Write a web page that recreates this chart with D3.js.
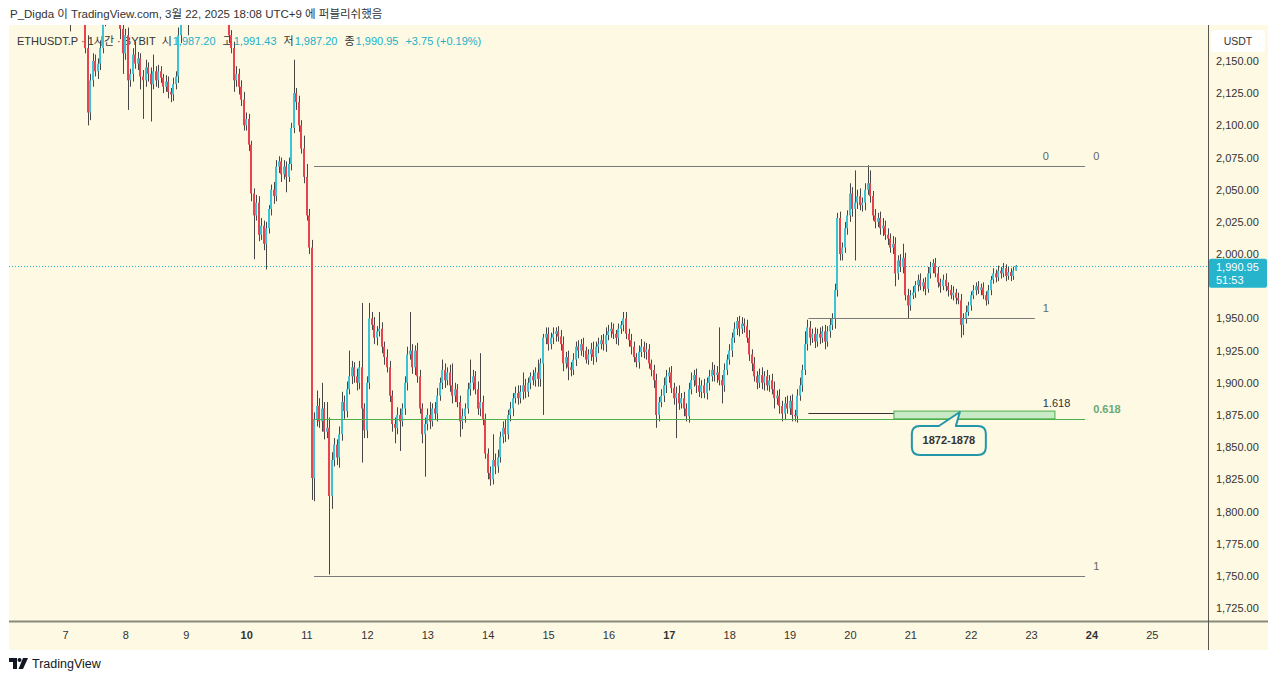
<!DOCTYPE html>
<html>
<head>
<meta charset="utf-8">
<script src="https://cdn.jsdelivr.net/npm/d3@7"></script>
<style>
  html, body { margin: 0; padding: 0; background: #fff; }
  svg { display: block; font-family: "Liberation Sans", "Noto Sans CJK KR", sans-serif; }
</style>
</head>
<body>
<svg id="chart" width="1280" height="681"></svg>
<script>
// ETHUSDT.P 1시간봉 (BYBIT), 3/6 20:00 ~ 3/22 18:00 (UTC+9), 가격은 그림에서 읽은 추정값
const startHour = -4;      // 첫 캔들 = 3월 7일 00시 기준 -4시간
const firstOpen = 2200;

const closes = [
  2205, 2198, 2210, 2200,
  2195, 2200, 2192, 2200, 2210, 2205, 2195, 2185, 2160, 2110, 2135, 2150, 2142, 2148, 2160, 2182, 2190, 2195, 2200, 2205, 2200, 2195, 2175, 2156,
  2170, 2135, 2140, 2155, 2148, 2152, 2138, 2135, 2145, 2140, 2132, 2142, 2135, 2142, 2137, 2130, 2134, 2126, 2124, 2132, 2138, 2170, 2185, 2195,
  2200, 2195, 2205, 2210, 2200, 2205, 2212, 2208, 2200, 2195, 2200, 2205, 2210, 2205, 2200, 2195, 2190, 2170, 2160, 2135, 2140, 2130, 2120, 2100,
  2105, 2085, 2047, 2030, 2040, 2015, 2022, 2008, 2020, 2035, 2050, 2045, 2068, 2072, 2062, 2068, 2060, 2070, 2098, 2125, 2118, 2100, 2082, 2060,
  2030, 2005, 1826, 1872, 1882, 1870, 1880, 1862, 1865, 1812, 1840, 1852, 1842, 1860, 1885, 1878, 1895, 1905, 1912, 1905, 1900, 1912, 1880, 1863,
  1900, 1950, 1945, 1935, 1940, 1942, 1928, 1920, 1912, 1890, 1868, 1865, 1875, 1870, 1880, 1900, 1922, 1925, 1912, 1925, 1905, 1880, 1860, 1868,
  1875, 1870, 1880, 1876, 1890, 1900, 1910, 1902, 1908, 1898, 1890, 1895, 1885, 1870, 1874, 1880, 1895, 1900, 1905, 1895, 1880, 1885, 1872, 1845,
  1830, 1825, 1840, 1835, 1842, 1858, 1865, 1860, 1875, 1880, 1888, 1892, 1888, 1893, 1898, 1893, 1900, 1905, 1902, 1908, 1903, 1915, 1935, 1938,
  1930, 1935, 1938, 1940, 1936, 1930, 1915, 1920, 1912, 1910, 1918, 1928, 1925, 1930, 1925, 1918, 1922, 1926, 1920, 1928, 1930, 1933, 1930, 1937,
  1940, 1942, 1938, 1935, 1942, 1945, 1950, 1938, 1933, 1928, 1920, 1916, 1924, 1928, 1924, 1926, 1915, 1910, 1902, 1875, 1885, 1890, 1898, 1905,
  1908, 1896, 1888, 1892, 1884, 1888, 1880, 1874, 1895, 1902, 1906, 1898, 1893, 1898, 1892, 1900, 1905, 1910, 1906, 1908, 1902, 1898, 1910, 1918,
  1925, 1935, 1942, 1948, 1942, 1946, 1944, 1935, 1922, 1915, 1905, 1900, 1906, 1900, 1905, 1898, 1902, 1895, 1888, 1890, 1882, 1876, 1884, 1880,
  1886, 1875, 1874, 1890, 1898, 1910, 1930, 1943, 1935, 1938, 1932, 1938, 1935, 1940, 1932, 1940, 1945, 1950, 1972, 2028, 2000, 2005, 2020, 2030,
  2047, 2035, 2040, 2045, 2038, 2040, 2050, 2055, 2045, 2030, 2025, 2028, 2020, 2022, 2015, 2012, 2005, 2008, 1985, 1995, 1990, 1997, 1968, 1960,
  1968, 1970, 1976, 1980, 1975, 1978, 1973, 1985, 1990, 1993, 1985, 1978, 1975, 1980, 1975, 1972, 1968, 1970, 1966, 1964, 1945, 1950, 1955, 1960,
  1968, 1972, 1975, 1972, 1974, 1968, 1964, 1972, 1980, 1985, 1982, 1987, 1985, 1989, 1983, 1986, 1983, 1987.2, 1990.95
];

// 몸통 위/아래로 나온 꼬리 길이
const wickHi = [
  5, 5, 5, 5,
  6, 5, 4, 6, 5, 4, 5, 6, 8, 10, 5, 6, 5, 4, 6, 8, 5, 5, 6, 5, 4, 5, 6, 4,
  5, 6, 4, 5, 10, 5, 4, 5, 6, 4, 5, 13, 4, 5, 4, 3, 5, 4, 3, 5, 4, 6, 8, 5,
  5, 4, 6, 5, 4, 5, 6, 4, 5, 6, 4, 5, 6, 4, 5, 6, 5, 6, 4, 5, 6, 4, 5, 6,
  5, 4, 3, 4, 6, 5, 6, 4, 5, 3, 4, 6, 5, 4, 3, 5, 4, 5, 4, 26, 4, 5, 4, 10,
  10, 5, 6, 5, 12, 6, 20, 5, 20, 8, 6, 5, 4, 6, 8, 5, 6, 20, 5, 4, 6, 5, 50, 4,
  5, 12, 5, 6, 4, 13, 5, 4, 6, 5, 4, 5, 6, 5, 4, 5, 6, 30, 5, 4, 6, 5, 4, 5,
  5, 10, 4, 5, 6, 4, 8, 5, 4, 6, 17, 5, 4, 5, 6, 4, 5, 18, 5, 4, 6, 38, 5, 4,
  4, 5, 20, 5, 6, 4, 5, 6, 4, 5, 4, 5, 6, 5, 10, 5, 4, 3, 5, 4, 10, 4, 3, 5,
  5, 4, 5, 3, 4, 5, 6, 4, 5, 4, 5, 4, 5, 4, 5, 3, 4, 5, 6, 4, 5, 4, 5, 6,
  5, 5, 4, 3, 4, 3, 5, 5, 4, 5, 4, 3, 5, 6, 4, 5, 4, 3, 4, 5, 4, 5, 6, 5,
  4, 5, 4, 5, 6, 4, 5, 4, 5, 6, 4, 5, 6, 4, 5, 4, 5, 6, 4, 5, 35, 4, 5, 4,
  5, 4, 5, 3, 4, 5, 4, 5, 6, 4, 5, 4, 5, 6, 4, 5, 4, 5, 6, 4, 5, 4, 5, 6,
  4, 5, 4, 5, 6, 4, 10, 6, 5, 4, 5, 4, 5, 4, 5, 4, 5, 4, 5, 4, 5, 4, 5, 4,
  8, 5, 25, 5, 6, 4, 5, 14, 10, 4, 5, 4, 5, 6, 4, 5, 4, 6, 5, 4, 5, 11, 4, 5,
  4, 5, 3, 4, 5, 3, 4, 5, 4, 3, 4, 5, 3, 4, 5, 3, 4, 5, 3, 4, 5, 4, 5, 3,
  3, 4, 3, 4, 3, 4, 3, 4, 3, 4, 3, 4, 3, 4, 3, 4, 3, 3, 0.48
];
const wickLo = [
  5, 5, 5, 8,
  4, 5, 19, 5, 4, 6, 5, 5, 4, 10, 6, 5, 4, 6, 5, 4, 5, 6, 4, 5, 6, 5, 8, 16,
  5, 23, 5, 6, 4, 5, 10, 30, 5, 6, 29, 4, 5, 6, 4, 5, 4, 5, 6, 5, 4, 5, 6, 5,
  5, 25, 5, 4, 6, 5, 4, 5, 6, 4, 17, 5, 4, 5, 6, 4, 5, 6, 4, 9, 5, 6, 5, 4,
  4, 5, 6, 34, 4, 5, 4, 5, 20, 4, 5, 6, 4, 5, 6, 4, 12, 4, 5, 4, 6, 5, 4, 5,
  4, 5, 17, 18, 6, 5, 8, 6, 5, 61, 10, 5, 6, 8, 5, 6, 5, 4, 6, 5, 6, 5, 42, 6,
  6, 5, 4, 5, 6, 4, 5, 6, 4, 5, 6, 12, 5, 23, 4, 5, 6, 4, 5, 6, 5, 4, 7, 33,
  5, 6, 4, 5, 6, 4, 5, 6, 4, 5, 6, 5, 4, 12, 6, 5, 4, 5, 6, 4, 5, 6, 5, 4,
  5, 5, 4, 6, 5, 4, 5, 6, 4, 5, 6, 4, 5, 4, 6, 5, 4, 5, 4, 5, 6, 6, 40, 5,
  5, 4, 5, 6, 4, 5, 6, 4, 10, 5, 4, 5, 6, 4, 5, 3, 4, 5, 6, 4, 5, 4, 5, 6,
  4, 5, 4, 5, 6, 4, 5, 4, 5, 6, 4, 4, 5, 4, 5, 6, 4, 5, 6, 10, 5, 4, 5, 6,
  5, 4, 5, 31, 5, 4, 6, 4, 5, 4, 5, 6, 4, 5, 4, 5, 6, 4, 5, 6, 4, 14, 5, 4,
  4, 5, 4, 5, 6, 4, 5, 4, 5, 6, 4, 5, 4, 5, 6, 4, 5, 4, 8, 5, 6, 6, 5, 4,
  5, 5, 4, 5, 4, 5, 4, 5, 6, 4, 5, 4, 5, 4, 6, 4, 5, 4, 8, 5, 5, 5, 4, 5,
  5, 6, 40, 5, 4, 5, 6, 4, 5, 4, 5, 4, 5, 6, 4, 5, 4, 5, 10, 5, 4, 5, 4, 10,
  4, 3, 4, 5, 3, 4, 5, 3, 4, 5, 3, 4, 5, 3, 4, 5, 3, 4, 5, 3, 10, 8, 4, 3,
  4, 3, 4, 3, 4, 3, 4, 3, 4, 3, 4, 3, 4, 3, 4, 3, 4, 3, 0
];

const priceTicks = [2150, 2125, 2100, 2075, 2050, 2025, 2000, 1975, 1950, 1925, 1900, 1875, 1850, 1825, 1800, 1775, 1750, 1725];
const dayTicks = [7, 8, 9, 10, 11, 12, 13, 14, 15, 16, 17, 18, 19, 20, 21, 22, 23, 24, 25];
const boldDays = [10, 17, 24];

// 범례 (시/고/저/종)
const legendNames = ["시", "고", "저", "종"];
const legendValues = [1987.20, 1991.43, 1987.20, 1990.95];
const change = [3.75, 0.19];
const lastPrice = 1990.95;
const countdown = "51:53";

// 피보나치: 3/11 저점 ~ 3/20 고점, 3/19 ~ 3/20 확장
const fibHigh = 2068.4, fibLow = 1750, fibMid = 1950;
const fibRetLevels = [0, 0.618, 1];
const fibExtLevels = [0, 1, 1.618];
const fibRetHours = [99, 405.5];
const fibExtHours = [295.5, 385.5];
const zone = [1872, 1878];
const zoneHours = [329.5, 393.5];
const calloutText = "1872-1878";
const calloutAnchor = [355.7, 1877.3];

const config = {
    width: 1280, height: 681,
    pane: { left: 9, top: 25, right: 1208, bottom: 621 },
    axisRight: 1268, axisBottom: 650,
    color: {
        bg: "#fdf9e3", up: "#3cc3d8", down: "#e8434f", wick: "#474747",
        text: "#333", value: "#22b0c8", fib: "#7a7a7a", green: "#4caf50",
        label: "#26b4cd", callout: "#2396a8"
    }
};

const svg = d3.select("#chart");
const P = config.pane;
const C = config.color;

const t0 = Date.UTC(2025, 2, 7);
const hourDate = h => new Date(t0 + h * 3600e3);

// x: 하루 ~60.4px, y: 25달러 ~32.2px
const x = d3.scaleUtc()
    .domain([new Date(t0), new Date(Date.UTC(2025, 2, 25))])
    .range([65, 1151.8]);
const y = d3.scaleLinear()
    .domain([1725, 2150])
    .range([608, 61]);

const candles = closes.map((c, i) => {
    const o = i ? closes[i - 1] : firstOpen;
    return {
        t: hourDate(startHour + i), o, c,
        h: Math.max(o, c) + wickHi[i],
        l: Math.min(o, c) - wickLo[i]
    };
});

// background
svg.append("rect").attr("width", config.width).attr("height", config.height).attr("fill", "#fff");
svg.append("rect")
    .attr("x", P.left).attr("y", P.top)
    .attr("width", config.axisRight - P.left).attr("height", config.axisBottom - P.top)
    .attr("fill", C.bg);

svg.append("clipPath").attr("id", "pane")
    .append("rect")
    .attr("x", P.left).attr("y", P.top)
    .attr("width", P.right - P.left).attr("height", P.bottom - P.top);

// title
svg.append("text")
    .attr("x", 10).attr("y", 17.5)
    .attr("font-size", 11.5).attr("fill", C.text)
    .text("P_Digda 이 TradingView.com, 3월 22, 2025 18:08 UTC+9 에 퍼블리쉬했음");

// legend (candles are drawn over it, like the reference)
const legend = svg.append("text")
    .attr("x", 17).attr("y", 45)
    .attr("font-size", 11);
legend.append("tspan").attr("fill", C.text).text("ETHUSDT.P · 1시간 · BYBIT");
const fmt = d3.format(",.2f");
legendNames.forEach((n, i) => {
    legend.append("tspan").attr("dx", i ? 7 : 6).attr("fill", C.text).text(n);
    legend.append("tspan").attr("dx", 1).attr("fill", C.value).text(fmt(legendValues[i]));
});
legend.append("tspan").attr("dx", 7).attr("fill", C.value)
    .text(`+${change[0].toFixed(2)} (+${change[1].toFixed(2)}%)`);

// last price line
svg.append("line")
    .attr("x1", P.left).attr("x2", P.right)
    .attr("y1", Math.round(y(lastPrice)) + 0.5).attr("y2", Math.round(y(lastPrice)) + 0.5)
    .attr("stroke", C.label).attr("stroke-width", 1)
    .attr("stroke-dasharray", "1,2");

// candles
const cg = svg.append("g").attr("clip-path", "url(#pane)");
cg.selectAll(".wick").data(candles).join("rect")
    .attr("class", "wick")
    .attr("x", d => Math.round(x(d.t)))
    .attr("y", d => y(d.h))
    .attr("width", 1)
    .attr("height", d => Math.max(1, y(d.l) - y(d.h)))
    .attr("fill", C.wick);
cg.selectAll(".body").data(candles).join("rect")
    .attr("class", "body")
    .attr("x", d => Math.round(x(d.t)) - 1)
    .attr("y", d => y(Math.max(d.o, d.c)))
    .attr("width", 2)
    .attr("height", d => Math.max(1, Math.abs(y(d.o) - y(d.c))))
    .attr("fill", d => d.c >= d.o ? C.up : C.down);

// fib retracement (low -> high)
const fg = svg.append("g").attr("font-size", 11);
fibRetLevels.forEach(lv => {
    const p = fibHigh - lv * (fibHigh - fibLow);
    const yy = Math.round(y(p)) + 0.5;
    const col = lv === 0.618 ? C.green : C.fib;
    fg.append("line")
        .attr("x1", x(hourDate(fibRetHours[0]))).attr("x2", x(hourDate(fibRetHours[1])))
        .attr("y1", yy).attr("y2", yy)
        .attr("stroke", col).attr("stroke-width", 1);
    fg.append("text")
        .attr("x", x(hourDate(fibRetHours[1])) + 8).attr("y", yy - 7)
        .attr("fill", lv === 0.618 ? "#6aaa78" : "#666")
        .attr("font-weight", lv === 0.618 ? "bold" : null)
        .text(String(lv));
});

// fib extension
fibExtLevels.forEach(lv => {
    const p = fibHigh - lv * (fibHigh - fibMid);
    const yy = Math.round(y(p)) + 0.5;
    const dark = lv === 1.618;
    fg.append("line")
        .attr("x1", x(hourDate(fibExtHours[0]))).attr("x2", x(hourDate(fibExtHours[1])))
        .attr("y1", yy).attr("y2", yy)
        .attr("stroke", dark ? "#333" : C.fib).attr("stroke-width", 1);
    fg.append("text")
        .attr("x", x(hourDate(fibExtHours[1])) + 8).attr("y", yy - 7)
        .attr("fill", dark ? "#333" : "#666")
        .text(String(lv));
});

// zone box
svg.append("rect")
    .attr("x", x(hourDate(zoneHours[0])))
    .attr("y", y(zone[1]))
    .attr("width", x(hourDate(zoneHours[1])) - x(hourDate(zoneHours[0])))
    .attr("height", y(zone[0]) - y(zone[1]))
    .attr("fill", "#c8ebc6").attr("stroke", "#4caf50").attr("stroke-width", 1);

// callout bubble
{
    const ax = x(hourDate(calloutAnchor[0])), ay = y(calloutAnchor[1]);
    const l = ax - 48, r = ax + 26, t = ay + 14, b = ay + 43, rr = 8;
    const path = d3.path();
    path.moveTo(l + rr, t);
    path.lineTo(ax - 21, t);
    path.lineTo(ax, ay);
    path.lineTo(ax - 4, t);
    path.lineTo(r - rr, t);
    path.quadraticCurveTo(r, t, r, t + rr);
    path.lineTo(r, b - rr);
    path.quadraticCurveTo(r, b, r - rr, b);
    path.lineTo(l + rr, b);
    path.quadraticCurveTo(l, b, l, b - rr);
    path.lineTo(l, t + rr);
    path.quadraticCurveTo(l, t, l + rr, t);
    path.closePath();
    svg.append("path").attr("d", path.toString())
        .attr("fill", C.bg).attr("stroke", C.callout).attr("stroke-width", 2)
        .attr("stroke-linejoin", "round");
    svg.append("text")
        .attr("x", (l + r) / 2).attr("y", (t + b) / 2 + 4)
        .attr("text-anchor", "middle")
        .attr("font-size", 11).attr("font-weight", "bold").attr("fill", C.text)
        .text(calloutText);
}

// price axis, labels hidden under the last-price box are skipped (as TradingView does)
const ly = y(lastPrice);
const visibleTicks = priceTicks.filter(p => y(p) < ly - 10 || y(p) > ly + 27);
svg.append("g")
    .attr("transform", `translate(${P.right},0)`)
    .call(d3.axisRight(y).tickValues(visibleTicks).tickFormat(fmt).tickSize(0).tickPadding(8))
    .call(g => g.select(".domain").remove())
    .call(g => g.selectAll("text").attr("font-size", 11).attr("fill", C.text)
        .attr("font-family", "Liberation Sans, sans-serif"));

// time axis
svg.append("g")
    .attr("transform", `translate(0,${P.bottom})`)
    .call(d3.axisBottom(x)
        .tickValues(dayTicks.map(d => new Date(Date.UTC(2025, 2, d))))
        .tickFormat(d3.utcFormat("%-d")).tickSize(0).tickPadding(10))
    .call(g => g.select(".domain").remove())
    .call(g => g.selectAll("text").attr("font-size", 11).attr("fill", C.text)
        .attr("font-family", "Liberation Sans, sans-serif")
        .attr("font-weight", d => boldDays.includes(d.getUTCDate()) ? "bold" : null));

// pane borders
svg.append("line")
    .attr("x1", P.left).attr("x2", config.axisRight)
    .attr("y1", P.bottom + 0.5).attr("y2", P.bottom + 0.5)
    .attr("stroke", "#8a8a7c").attr("stroke-width", 2);
svg.append("line")
    .attr("x1", P.right + 0.5).attr("x2", P.right + 0.5)
    .attr("y1", P.top).attr("y2", config.axisBottom)
    .attr("stroke", "#555").attr("stroke-width", 1);

// USDT box
svg.append("rect")
    .attr("x", 1211).attr("y", 30).attr("width", 54).attr("height", 22).attr("rx", 4)
    .attr("fill", "#fff");
svg.append("text")
    .attr("x", 1238).attr("y", 45).attr("text-anchor", "middle")
    .attr("font-size", 10.5).attr("fill", C.text).text("USDT");

// last price label
svg.append("rect")
    .attr("x", P.right + 1).attr("y", ly - 7).attr("width", 58).attr("height", 29).attr("rx", 2)
    .attr("fill", C.label);
svg.append("text")
    .attr("x", P.right + 8).attr("y", ly + 5)
    .attr("font-size", 11).attr("fill", "#fff").text(fmt(lastPrice));
svg.append("text")
    .attr("x", P.right + 8).attr("y", ly + 18)
    .attr("font-size", 11).attr("fill", "#fff").text(countdown);

// TradingView logo
const logo = svg.append("g").attr("transform", "translate(9,658)").attr("fill", "#131722");
logo.append("path").attr("d", "M0,0 H8 V11 H4 V4 H0 Z");
logo.append("circle").attr("cx", 10.5).attr("cy", 2).attr("r", 2);
logo.append("path").attr("d", "M14,0 H19 L14,11 H9.5 Z");
svg.append("text")
    .attr("x", 32).attr("y", 668)
    .attr("font-size", 12.5).attr("fill", "#131722").text("TradingView");
</script>
</body>
</html>
